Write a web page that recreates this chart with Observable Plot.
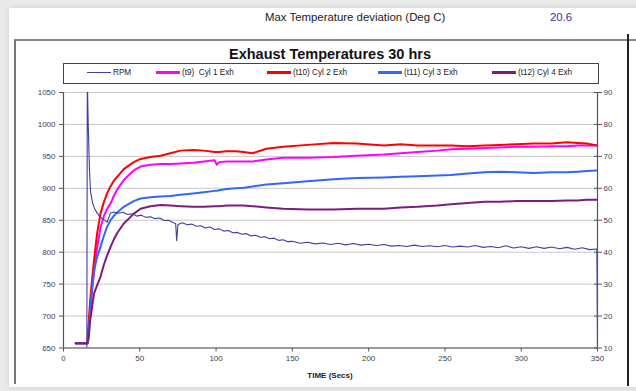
<!DOCTYPE html>
<html><head><meta charset="utf-8">
<script src="https://cdn.jsdelivr.net/npm/d3@7"></script>
<script src="https://cdn.jsdelivr.net/npm/@observablehq/plot@0.6"></script>
<style>
body{margin:0;background:#e9e9e9;}
#wrap{position:relative;width:636px;height:391px;background:#e9e9e9;overflow:hidden;font-family:"Liberation Sans",Arial,sans-serif;}
#page{position:absolute;left:9px;top:8px;width:640px;height:379px;background:#fff;box-shadow:0 0 5px #d0d0d0;}
#frameL{position:absolute;left:14px;top:40px;width:2px;height:344px;background:#777;}
#frameT{position:absolute;left:14px;top:39px;width:622px;height:2px;background:#888;}
#frameR{position:absolute;left:627px;top:34px;width:1.5px;height:352px;background:#222;}
#hdr{position:absolute;left:265px;top:11px;font-size:11.4px;color:#222;white-space:nowrap;}
#hdrv{position:absolute;left:550px;top:11px;font-size:11.4px;color:#333399;}
#title{position:absolute;left:0;width:660px;top:46px;text-align:center;font-size:14.5px;font-weight:bold;color:#111;}
#legend{position:absolute;left:63px;top:63px;width:534px;height:19px;border:1.5px solid #444;}
.li{position:absolute;top:4px;font-size:8.2px;color:#222;white-space:pre;}
.sw{display:inline-block;width:24px;vertical-align:middle;margin-right:2px;}
#chart{position:absolute;left:0;top:0;}
#xl{position:absolute;left:0;width:660px;top:371px;text-align:center;font-size:8px;font-weight:bold;color:#222;}
</style>
</head><body>
<div id="wrap">
  <div id="page"></div>
  <div id="frameT"></div><div id="frameL"></div><div id="frameR"></div>
  <div id="hdr"></div><div id="hdrv"></div>
  <div id="title"></div>
  <div id="legend"></div>
  <div id="chart"></div>
  <div id="xl"></div>
</div>
<script>
// ---- text ----
const headerLabel = "Max Temperature deviation (Deg C)";
const headerValue = "20.6";
const chartTitle = "Exhaust Temperatures 30 hrs";
const xTitle = "TIME (Secs)";

// ---- series meta ----
const seriesNames = ["RPM", "(t9)  Cyl 1 Exh", "(t10) Cyl 2 Exh", "(t11) Cyl 3 Exh", "(t12) Cyl 4 Exh"];
const seriesColors = ["#3f3f9f", "#ff00ff", "#ff0000", "#3366ff", "#7f1a7f"];
const legendX = [23, 92, 203, 314, 428];

// ---- ticks ----
const xTicks = [0, 50, 100, 150, 200, 250, 300, 350];
const tempTicks = [650, 700, 750, 800, 850, 900, 950, 1000, 1050];
const rpmTicks = [10, 20, 30, 40, 50, 60, 70, 80, 90];

// ---- temperature data (deg C) ----
const timeTemp = [8, 15.7, 16.5, 17.5, 18.8, 20, 22, 24.2, 26.4, 28.6,
  30.8, 33, 35.2, 39.5, 46, 50.5, 57, 63.6, 70, 76.7,
  85, 92, 99, 100.5, 102, 107, 113, 118, 124, 133,
  144, 160, 177, 192, 210, 221, 232, 245, 254, 265,
  276, 286, 297, 308, 320, 330, 337, 343, 350];
const cyl1 = [658, 658, 680, 710, 742, 768, 806, 838, 856, 868,
  876, 888, 898, 913, 928, 934, 937, 938, 938, 939,
  940, 942, 944, 937, 941, 942, 942, 942, 942, 945,
  948, 948, 949, 951, 953, 955, 957, 959, 961, 962,
  963, 964, 965, 965, 966, 966, 967, 967, 967];
const cyl2 = [658, 658, 690, 725, 760, 787, 829, 860, 878, 892,
  903, 912, 918, 930, 941, 946, 949, 951, 955, 959,
  960, 959, 957, 957, 957, 958, 958, 957, 955, 962,
  965, 968, 971, 970, 967, 969, 967, 967, 967, 966,
  967, 968, 969, 970, 970, 972, 971, 970, 967];
const cyl3 = [657, 657, 675, 710, 745, 771, 792, 808, 825, 840,
  850, 857, 862, 871, 880, 884, 886, 887, 888, 890,
  892, 894, 896, 896, 897, 899, 900, 901, 903, 906,
  908, 911, 914, 916, 917, 918, 919, 920, 921, 923,
  925, 926, 925, 924, 925, 925, 926, 927, 928];
const cyl4 = [657, 657, 665, 693, 715, 735, 748, 761, 780, 795,
  808, 820, 830, 845, 860, 868, 872, 874, 873, 872,
  871, 871, 872, 872, 872, 873, 873, 873, 872, 870,
  868, 867, 867, 868, 868, 870, 871, 873, 875, 877,
  879, 879, 880, 880, 880, 881, 881, 882, 882];

// ---- RPM data (right axis) ----
const rpmTime = [15.3, 15.6, 16.2, 17, 17.7, 19, 20.5, 22, 24, 26.4, 28.6, 30.8, 33, 36, 39, 42, 45, 48, 51, 54,
  57, 60, 63, 66, 69, 72, 73.5, 74.2, 75, 78, 81, 84, 87, 90, 93, 96, 99, 102, 105, 108,
  111, 114, 117, 120, 123, 126, 129, 132, 135, 138, 141, 144, 147, 150, 155, 160, 165, 170, 175, 180,
  185, 190, 195, 200, 205, 210, 215, 220, 225, 230, 235, 240, 245, 250, 255, 260, 265, 270, 275, 280,
  285, 290, 295, 300, 305, 310, 315, 320, 325, 330, 335, 340, 345, 349.6, 350];
const rpm = [10, 95, 80, 66, 59, 55.5, 53.5, 52.3, 51, 50.2, 49.4, 52.3, 52.6, 52.2, 52.5, 51.8, 52, 51.3, 51.6, 50.9,
  51.1, 50.5, 50.7, 49.9, 50, 49.2, 49, 43.6, 48.7, 49.2, 48.6, 48.8, 48.1, 48.3, 47.6, 47.9, 47.1, 47.3, 46.6, 46.8,
  46.1, 46.2, 45.6, 45.8, 45.1, 45.3, 44.7, 44.8, 44.2, 44.4, 43.7, 43.9, 43.3, 43.4, 42.8, 43.1, 42.6, 42.9, 42.4, 42.8,
  42.3, 42.7, 42.2, 42.5, 42.1, 42.4, 41.9, 42.1, 41.8, 42.2, 41.8, 42, 41.7, 42.1, 41.6, 41.9, 41.6, 42.1, 41.5, 41.8,
  41.4, 42, 41.3, 41.7, 41.2, 41.7, 41.2, 41.6, 41.1, 41.5, 40.9, 41.4, 40.8, 41, 10];

// right axis [10,90] maps onto left axis [650,1050]
const rpmToTemp = r => 650 + (r - 10) * 5;
const tempToRpm = t => (t - 650) / 5 + 10;

document.getElementById("hdr").textContent = headerLabel;
document.getElementById("hdrv").textContent = headerValue;
document.getElementById("title").textContent = chartTitle;
document.getElementById("xl").textContent = xTitle;

const leg = document.getElementById("legend");
seriesNames.forEach((n, i) => {
  const d = document.createElement("div");
  d.className = "li";
  d.style.left = legendX[i] + "px";
  const s = document.createElement("span");
  s.className = "sw";
  s.style.borderTop = (i === 0 ? 1.5 : 3) + "px solid " + seriesColors[i];
  d.appendChild(s);
  d.appendChild(document.createTextNode(n));
  leg.appendChild(d);
});

const tempSeries = [cyl1, cyl2, cyl3, cyl4];
const tempData = tempSeries.map((vals, k) => timeTemp.map((t, i) => ({t, v: vals[i], k: k + 1})));
const rpmData = rpmTime.map((t, i) => ({t, v: rpmToTemp(rpm[i])}));

const axisColor = "#555";
const plot = Plot.plot({
  width: 636, height: 391,
  marginLeft: 63, marginRight: 39, marginTop: 92, marginBottom: 43.5,
  x: {domain: [0, 350]},
  y: {domain: [650, 1050]},
  style: {background: "transparent", fontFamily: "'Liberation Sans', Arial, sans-serif", fontSize: "8px", color: "#444", overflow: "visible"},
  marks: [
    Plot.gridY(tempTicks, {stroke: "#c8c8c8", strokeOpacity: 1, strokeWidth: 1}),
    Plot.axisY(tempTicks, {anchor: "left", tickSize: 4, tickPadding: 4, label: null, stroke: axisColor, tickFormat: d => String(d)}),
    Plot.axisY(tempTicks, {anchor: "right", tickSize: 8, dx: -4, label: null, stroke: axisColor, tickFormat: () => ""}),
    Plot.axisY(rpmTicks.map(rpmToTemp), {anchor: "right", tickSize: 0, tickPadding: 6, label: null, tickFormat: d => String(tempToRpm(d))}),
    Plot.axisX(xTicks, {anchor: "bottom", tickSize: 4, tickPadding: 3, label: null, stroke: axisColor}),
    Plot.ruleX([0, 350], {stroke: axisColor, strokeWidth: 1.2}),
    Plot.ruleY([650], {stroke: axisColor, strokeWidth: 1.2}),
    ...tempData.map((d, k) => Plot.line(d, {x: "t", y: "v", stroke: seriesColors[k + 1], strokeWidth: 2, clip: true})),
    Plot.line(rpmData, {x: "t", y: "v", stroke: seriesColors[0], strokeWidth: 1.1, clip: true})
  ]
});
document.getElementById("chart").appendChild(plot);
</script>
</body></html>
